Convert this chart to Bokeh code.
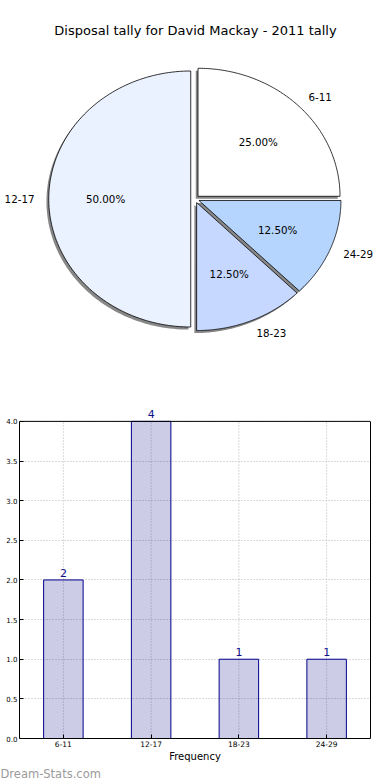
import numpy as np
from bokeh.plotting import figure
from bokeh.models import (Range1d, Label, LabelSet, FixedTicker, PrintfTickFormatter,
                          FactorRange, ColumnDataSource, Span, LinearAxis, Title)
from bokeh.core.properties import value
from bokeh.embed import file_html
from bokeh.resources import INLINE

# ---- data ----
title_text = "Disposal tally for David Mackay - 2011 tally"
categories = ["6-11", "12-17", "18-23", "24-29"]
counts = [2, 4, 1, 1]
slice_colors = ["#ffffff", "#eaf1ff", "#c6d8ff", "#b5d5ff"]
y_ticks = [0.0, 0.5, 1.0, 1.5, 2.0, 2.5, 3.0, 3.5, 4.0]
x_label = "Frequency"
watermark = "Dream-Stats.com"

FONT = "DejaVu Sans"
GRID_COLOR = "#b5b5b5"
GRID_DASH = "1 2"

# ---- layout constants ----
W = 390
PIE_H = 400
BAR_H = 380
RX, RY = 142.0, 128.0          # pie radii in px (elliptical, as in the original)
CX, CY = 194.5, 198.5          # pie centre, px from top-left of the pie figure
EXPLODE = 0.03
SHADOW_DX, SHADOW_DY = -0.016, -0.02

pie = figure(width=W, height=PIE_H,
             x_range=Range1d(-CX / RX, (W - CX) / RX),
             y_range=Range1d(-(PIE_H - CY) / RY, CY / RY),
             x_axis_location=None, y_axis_location=None,
             output_backend="svg", toolbar_location=None, min_border=0)
pie.grid.visible = False
pie.outline_line_color = None

total = float(sum(counts))
fracs = [c / total for c in counts]
starts = np.concatenate([[0.0], np.cumsum(fracs)[:-1]]) * 2 * np.pi
ends = np.cumsum(fracs) * 2 * np.pi

xs, ys, sxs, sys_ = [], [], [], []
for cat, f, t1, t2 in zip(categories, fracs, starts, ends):
    mid = (t1 + t2) / 2
    ox, oy = EXPLODE * np.cos(mid), EXPLODE * np.sin(mid)
    t = np.linspace(t1, t2, 120)
    px = [ox] + list(ox + np.cos(t)) + [ox]
    py = [oy] + list(oy + np.sin(t)) + [oy]
    xs.append(px)
    ys.append(py)
    sxs.append([v + SHADOW_DX for v in px])
    sys_.append([v + SHADOW_DY for v in py])
    lx = ox + 1.1 * np.cos(mid)
    ly = oy + 1.1 * np.sin(mid)
    pie.add_layout(Label(x=lx, y=ly, text=cat, text_align="left" if lx > 0 else "right",
                         text_baseline="middle", text_font=FONT,
                         text_font_size="10.3px", text_color="black"))
    pie.add_layout(Label(x=ox + 0.6 * np.cos(mid), y=oy + 0.6 * np.sin(mid),
                         text="%.2f%%" % (f * 100), text_align="center",
                         text_baseline="middle", text_font=FONT,
                         text_font_size="10.3px", text_color="black"))

pie.patches(xs=sxs, ys=sys_, fill_color="#7a7a7a", line_color=None, fill_alpha=0.9)
pie.patches(xs=xs, ys=ys, fill_color=slice_colors, line_color="black", line_width=0.8)
pie.add_layout(Label(x=W / 2, y=PIE_H - 30, x_units="screen", y_units="screen",
                     text=title_text, text_align="center", text_baseline="middle",
                     text_font=FONT, text_font_size="13px", text_color="black"))

# ---- bar chart ----
# frame spans 0..4 in y from px 421 to 740 of the page; it is extended upward
# so that the value label above the tallest bar stays visible
PX_PER_UNIT = (740 - 421) / (y_ticks[-1] - y_ticks[0])
Y_TOP = y_ticks[-1] + 21 / PX_PER_UNIT
bar = figure(width=W, height=BAR_H,
             x_range=FactorRange(*categories, range_padding=0),
             y_range=Range1d(y_ticks[0], Y_TOP),
             output_backend="svg", toolbar_location=None,
             min_border_left=19, min_border_right=20,
             min_border_top=0, min_border_bottom=40)
bar.xgrid.visible = False
bar.ygrid.grid_line_color = GRID_COLOR
bar.ygrid.grid_line_dash = GRID_DASH
bar.segment(x0=categories, y0=[y_ticks[0]] * len(categories), x1=categories,
            y1=[y_ticks[-1]] * len(categories), line_color=GRID_COLOR,
            line_dash=GRID_DASH, line_width=1)
bar.vbar(x=categories, top=counts, width=0.45, fill_color="navy", fill_alpha=0.2,
         line_color="#00008b", line_width=1)
src = ColumnDataSource(dict(x=categories, y=counts, t=[str(c) for c in counts]))
bar.add_layout(LabelSet(x="x", y="y", text="t", source=src, text_align="center",
                        text_baseline="bottom", y_offset=3, text_font=value(FONT),
                        text_font_size="11px", text_color="#10108c"))

bar.outline_line_color = None
bar.add_layout(Span(location=y_ticks[-1], dimension="width", line_color="black",
                    line_width=1))
right_axis = LinearAxis(ticker=FixedTicker(ticks=[]), bounds=(y_ticks[0], y_ticks[-1]),
                        major_tick_in=0, major_tick_out=0,
                        minor_tick_line_color=None, axis_line_color="black")
bar.add_layout(right_axis, "right")

bar.yaxis[0].ticker = FixedTicker(ticks=y_ticks)
bar.yaxis[0].formatter = PrintfTickFormatter(format="%.1f")
bar.yaxis[0].bounds = (y_ticks[0], y_ticks[-1])
bar.yaxis[0].minor_tick_line_color = None
for ax in (bar.xaxis[0], bar.yaxis[0]):
    ax.major_tick_in = 4
    ax.major_tick_out = 0
    ax.major_label_text_font = FONT
    ax.major_label_text_color = "black"
    ax.axis_line_color = "black"
    ax.major_tick_line_color = "black"
bar.yaxis[0].major_label_text_font_size = "7px"
bar.yaxis[0].major_label_standoff = 2
bar.xaxis.major_label_text_font_size = "7.5px"
bar.xaxis.major_label_standoff = 2
bar.xaxis.axis_label = x_label
bar.xaxis.axis_label_text_font = FONT
bar.xaxis.axis_label_text_font_style = "normal"
bar.xaxis.axis_label_text_font_size = "10px"
bar.xaxis.axis_label_standoff = 1
bar.xaxis.axis_label_text_color = "black"
bar.add_layout(Title(text=watermark, align="left", offset=-19, standoff=0,
                     text_font=FONT, text_font_size="11.5px", text_font_style="normal",
                     text_color="#9a9a9a"), "below")

open("out.html", "w").write(file_html([pie, bar], INLINE))
